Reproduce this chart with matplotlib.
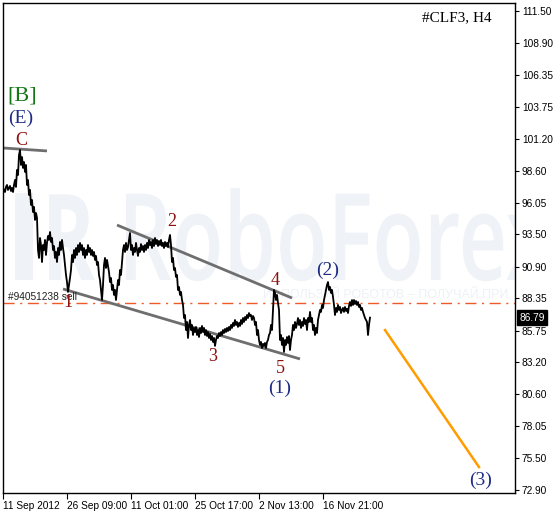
import matplotlib
matplotlib.use("Agg")
import matplotlib.pyplot as plt
import matplotlib.transforms as mtransforms
from matplotlib.textpath import TextPath
from matplotlib.patches import PathPatch, Rectangle
from matplotlib.font_manager import FontProperties

# ---------------- data ----------------
x_tick_labels = ["11 Sep 2012", "26 Sep 09:00", "11 Oct 01:00", "25 Oct 17:00", "2 Nov 13:00", "16 Nov 21:00"]
x_tick_bars = [0, 64, 128, 192, 256, 320]
y_ticks = [111.50, 108.90, 106.35, 103.75, 101.20, 98.60, 96.05, 93.50, 90.90, 88.35, 85.75, 83.20, 80.60, 78.05, 75.50, 72.90]

close_prices = [
    97.24, 97.08, 96.91, 97.32, 97.48, 97.08, 97.24, 97.40, 96.99, 97.24, 96.91, 97.48, 97.88, 97.32,
    98.69, 98.28, 99.90, 100.30, 99.09, 99.73, 98.85, 99.33, 98.53, 99.09, 97.48, 97.88, 96.67, 97.08,
    95.87, 96.27, 95.30, 95.71, 94.66, 95.22, 94.82,
    92.24, 91.60, 93.21, 92.64, 91.27, 92.64, 92.24, 93.05, 91.84, 92.81, 93.37, 93.05, 93.69, 92.89,
    93.21, 92.24, 92.56, 91.60, 92.08, 91.27, 92.40, 91.84, 92.89, 92.24, 93.05, 92.40, 91.84,
    91.03, 90.23, 89.66, 88.86, 89.42, 89.98, 90.63, 91.84, 91.27, 92.24, 91.60, 92.40, 91.84, 92.64,
    92.08, 92.81, 92.24, 92.64, 91.84, 92.40, 91.60, 92.24, 91.84, 92.64, 92.08, 92.40, 91.84, 92.24,
    91.76, 92.08, 91.44, 91.76, 91.03, 91.27,
    90.23, 89.82, 89.02, 88.21, 89.42, 91.03, 91.60, 90.79, 91.44, 90.95, 90.47, 89.66, 89.98, 89.02,
    89.42, 88.62, 89.02, 88.21, 89.02, 89.82, 89.42, 90.63, 90.23, 91.27, 92.24, 92.64, 92.08, 92.81,
    92.24, 92.48, 93.05,
    93.61, 92.24, 92.64, 91.84, 92.40, 92.08, 92.81, 92.24, 91.76, 92.40, 92.08, 92.72, 92.24, 92.56,
    92.08, 92.64, 92.24, 92.81, 92.40, 93.05, 92.64, 92.89, 92.40, 93.05, 92.56, 93.21, 92.72, 93.05,
    92.56, 92.97, 92.64, 93.05, 92.56, 92.81, 92.40, 92.89, 92.56, 92.81, 92.48, 93.05, 93.45, 92.64,
    91.27, 91.60, 90.63, 90.79, 90.07, 90.23, 89.02, 89.26, 88.62, 88.86, 88.21, 87.81, 86.76, 87.00,
    85.79, 86.44, 85.15, 86.20, 86.60, 85.79, 86.20, 85.39, 85.96, 85.63, 86.04, 85.39, 85.79, 85.23,
    85.96, 85.55, 86.12, 85.63, 85.96, 85.39, 85.79, 85.31, 85.63, 85.15, 85.47, 84.99, 85.31, 84.83,
    85.15, 84.51,
    84.99, 85.31, 85.15, 85.55, 85.31, 85.63, 85.39, 85.79, 85.55, 85.88, 85.63, 85.96, 85.71, 86.04,
    85.79, 86.20, 85.96, 86.36, 86.12, 86.60, 86.20, 86.44, 86.04, 86.36, 86.12, 86.60, 86.28, 86.76,
    86.44, 86.84, 86.60, 87.00, 86.76, 87.16, 86.92, 87.00, 86.60, 86.92, 86.76, 86.20, 86.44, 85.39,
    85.79, 84.99, 84.59, 84.83, 84.34, 84.67, 84.51, 84.75, 84.34, 84.83, 84.99, 85.39, 85.55, 86.20,
    85.79,
    87.41, 89.02, 88.78, 88.21, 88.62, 87.97, 87.41, 84.99, 85.39, 84.59, 85.15, 84.02, 84.99, 84.59,
    85.23, 84.75, 85.31, 84.18, 84.99,
    85.39, 86.20, 85.79, 86.44, 85.96, 86.28, 86.76, 86.20, 86.60, 85.96, 86.44, 86.12, 86.76, 86.28,
    86.60, 85.79, 86.76, 86.44, 87.25, 86.44, 86.76, 85.79, 86.20, 85.39, 85.96, 85.55, 86.60, 87.00,
    87.41, 87.25, 87.81, 87.57, 88.21, 88.62, 89.02, 89.42, 89.66, 89.02, 89.26, 88.78, 89.02, 88.45,
    87.81, 87.00, 87.57, 87.25, 87.81, 87.41, 87.65, 87.16, 87.41, 87.57, 87.25, 87.65, 87.33, 87.49,
    87.16, 87.73, 88.05, 87.73, 88.21, 87.81, 88.21, 87.89, 88.13, 87.81, 88.05, 87.65, 87.81, 87.41,
    87.57, 87.25, 87.00, 86.76, 86.60, 86.44, 85.39, 86.20, 86.79,
]
last_price = 86.79
order_level = 87.97
order_label = "#94051238 sell"

# trend lines (bar index, price)
top_line_x, top_line_y = [0, 44], [100.46, 100.22]
upper_channel_x, upper_channel_y = [114, 289], [94.25, 88.37]
lower_channel_x, lower_channel_y = [60, 297], [89.10, 83.46]
forecast_x, forecast_y = [382, 476], [85.79, 74.75]

# wave labels: (text, bar, price, color, size)
wave_labels = [
    ("[B]", 19, 104.65, "#147814", 16),
    ("(E)", 18, 102.88, "#1E2C86", 14),
    ("C", 18, 101.10, "#8B1010", 13),
    ("2", 169, 94.50, "#8B1010", 13),
    ("1", 65, 87.97, "#8B1010", 13),
    ("3", 210, 83.62, "#8B1010", 13),
    ("4", 272, 89.82, "#8B1010", 13),
    ("5", 277, 82.73, "#8B1010", 13),
    ("(1)", 277, 81.12, "#1E2C86", 14),
    ("(2)", 325, 90.63, "#1E2C86", 14),
    ("(3)", 478, 73.71, "#1E2C86", 14),
]

# ---------------- figure ----------------
W, H = 555, 511
fig = plt.figure(figsize=(W / 100, H / 100), dpi=100)
fig.patch.set_facecolor("white")
ax = fig.add_axes([3 / W, 18 / H, 512 / W, 490 / H])
ax.set_xlim(0, 512)
ax.set_ylim(72.66, 112.14)

# watermark
wm_color = "#eff2f6"
ident = mtransforms.IdentityTransform()
fp = FontProperties(family="Open Sans", weight="semibold")
tp = TextPath((0, 0), "RoboForex", size=100, prop=fp)
bb = tp.get_extents()
sx = 425 / bb.width
sy = 87 / 72.0
tr = mtransforms.Affine2D().scale(sx, sy).translate(118, H - 280)
wm = PathPatch(tp, transform=tr, facecolor=wm_color, edgecolor="none", zorder=0)
ax.add_patch(wm)
wm.set_transform(tr)
wm.set_clip_path(ax.patch)
tpR = TextPath((0, 0), "R", size=100, prop=FontProperties(family="Open Sans", weight="bold"))
trR = mtransforms.Affine2D().scale(0.8, 1.2).translate(42, H - 280)
wr = PathPatch(tpR, transform=trR, facecolor=wm_color, edgecolor="none", zorder=0)
ax.add_patch(wr)
wr.set_transform(trR)
rb = Rectangle((15, H - 280), 18, 87, transform=ident, facecolor=wm_color, edgecolor="none", zorder=0)
ax.add_patch(rb)
rb.set_transform(ident)
ru = ax.text(263, H - 295, "ИСПОЛЬЗУЙ РОБОТОВ – ПОЛУЧАЙ ПРИ", transform=ident,
             fontsize=9, color="#eef1f4", va="center", ha="left", zorder=0,
             family="Liberation Sans")
ru.set_clip_on(True)

# price line
bars = list(range(len(close_prices)))
ax.plot(bars, close_prices, color="black", lw=1.3, zorder=3)

# order level
ax.axhline(order_level, color="#F05A28", lw=1.0, dashes=(8, 4, 1.5, 4), zorder=2)
ax.text(5, 88.45, order_label, fontsize=7.3, color="#202020", ha="left", va="center", zorder=4,
        family="Liberation Sans")

# trend lines
for lx, ly in [(top_line_x, top_line_y), (upper_channel_x, upper_channel_y), (lower_channel_x, lower_channel_y)]:
    ax.plot(lx, ly, color="#6e6e6e", lw=2, zorder=2, solid_capstyle="butt")
ax.plot(forecast_x, forecast_y, color="#FF9C00", lw=1.8, zorder=2)

for txt, bx, py, col, sz in wave_labels:
    ax.text(bx, py, txt, fontsize=sz, color=col, ha="center", va="center",
            family="Liberation Serif", zorder=5)

ax.text(0.955, 0.971, "#CLF3, H4", transform=ax.transAxes, fontsize=11, ha="right", va="center",
        family="Liberation Serif", color="black")

# axes styling
for s in ax.spines.values():
    s.set_color("black")
    s.set_linewidth(1.0)
ax.yaxis.tick_right()
ax.set_yticks(y_ticks)
ax.set_yticklabels([f"{v:.2f}" for v in y_ticks], fontsize=7.3, family="Liberation Sans")
ax.tick_params(axis="y", direction="out", length=3, pad=2, width=0.8)
ax.set_xticks(x_tick_bars)
ax.set_xticklabels(x_tick_labels, fontsize=7.3, family="Liberation Sans")
ax.tick_params(axis="x", direction="out", length=4, pad=1.5, width=0.8)
for lbl in ax.get_xticklabels():
    lbl.set_horizontalalignment("left")

ax.text(1.008, last_price, f"{last_price:.2f}",
        transform=mtransforms.blended_transform_factory(ax.transAxes, ax.transData),
        fontsize=7.3, color="white", ha="left", va="center", family="Liberation Sans",
        bbox=dict(facecolor="black", edgecolor="black", boxstyle="square,pad=0.22"), clip_on=False)

fig.savefig("out.png", dpi=100, facecolor="white")
